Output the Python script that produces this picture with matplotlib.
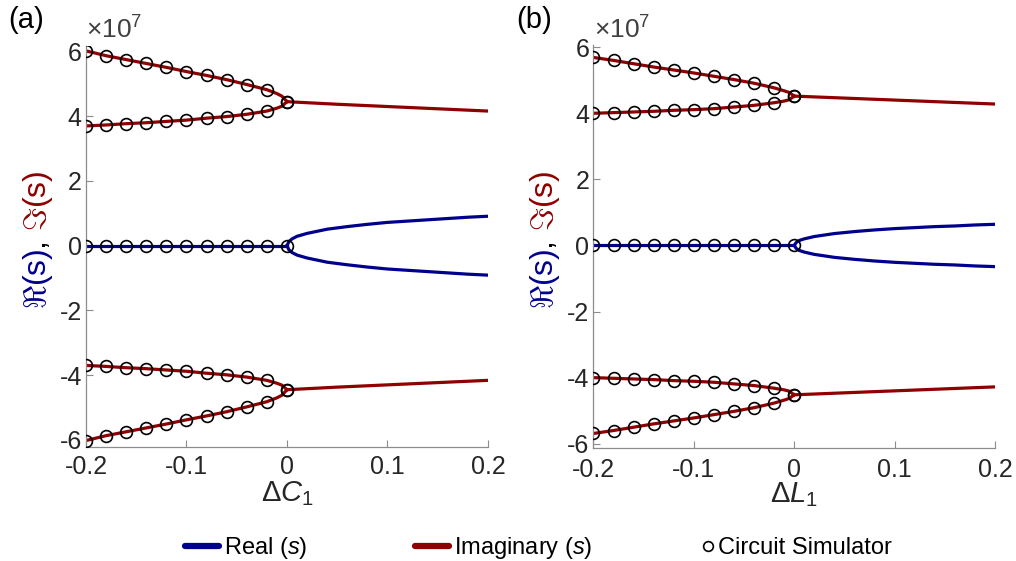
import matplotlib
matplotlib.use("Agg")
import matplotlib.pyplot as plt
from matplotlib.lines import Line2D

plt.rcParams['font.family'] = ['Liberation Sans', 'DejaVu Sans']
plt.rcParams['axes.unicode_minus'] = False
plt.rcParams['mathtext.fontset'] = 'custom'
plt.rcParams['mathtext.rm'] = 'Liberation Sans'
plt.rcParams['mathtext.it'] = 'Liberation Sans:italic'

# ---------------- data (eigenvalues in units of 1e7) ----------------
SCALE_EXP = 7

# detuning points where the circuit simulator was run
sim_x = [-0.20, -0.18, -0.16, -0.14, -0.12, -0.10, -0.08, -0.06, -0.04, -0.02, 0.00]

# extra theory points close to the exceptional point
ep_x = [-0.01, -0.005]

# post-EP sweep
post_x = [0.0, 0.05, 0.10, 0.15, 0.20]
re_x = [0.0, 0.002, 0.005, 0.01, 0.02, 0.04, 0.06, 0.08, 0.10, 0.12, 0.14, 0.16, 0.18, 0.20]

# panel (a): sweep of Delta C1
a_outer = [6.02, 5.87, 5.75, 5.63, 5.51, 5.38, 5.26, 5.13, 4.98, 4.82, 4.45]
a_inner = [3.70, 3.73, 3.77, 3.80, 3.84, 3.88, 3.94, 3.99, 4.06, 4.16, 4.45]
a_outer_ep = [4.70, 4.62]
a_inner_ep = [4.25, 4.31]
a_imag_post = [4.45, 4.37, 4.30, 4.23, 4.16]
a_real_post = [0.0, 0.13, 0.21, 0.29, 0.38, 0.51, 0.59, 0.66, 0.72, 0.76, 0.80, 0.84, 0.88, 0.91]

# panel (b): sweep of Delta L1
b_outer = [5.69, 5.60, 5.50, 5.40, 5.31, 5.22, 5.12, 5.02, 4.91, 4.77, 4.52]
b_inner = [4.00, 4.02, 4.04, 4.06, 4.09, 4.11, 4.14, 4.19, 4.24, 4.32, 4.52]
b_outer_ep = [4.68, 4.63]
b_inner_ep = [4.37, 4.41]
b_imag_post = [4.52, 4.46, 4.40, 4.34, 4.28]
b_real_post = [0.0, 0.09, 0.15, 0.20, 0.27, 0.36, 0.42, 0.47, 0.51, 0.54, 0.57, 0.59, 0.62, 0.64]

x_ticks = [-0.2, -0.1, 0, 0.1, 0.2]
x_ticklabels = ['-0.2', '-0.1', '0', '0.1', '0.2']
y_ticks = [-6, -4, -2, 0, 2, 4, 6]
y_ticklabels = ['-6', '-4', '-2', '0', '2', '4', '6']

REAL_C = '#00008c'
IMAG_C = '#8f0000'
AX_C = '#8c8c8c'
TXT_C = '#262626'
LW = 2.3

fig = plt.figure(figsize=(10.16, 5.61), dpi=100)
ax_a = fig.add_axes([0.0846, 0.2032, 0.3957, 0.7148])
ax_b = fig.add_axes([0.5841, 0.2014, 0.3952, 0.7180])


def branch(xs, vals, ep_vals):
    # merge the sampled branch with the extra points near the EP
    pts = sorted(zip(list(xs) + ep_x, list(vals) + ep_vals))
    return [p[0] for p in pts], [p[1] for p in pts]


def draw_panel(ax, outer, inner, outer_ep, inner_ep, imag_post, real_post, ylim, xpad):
    ox, oy = branch(sim_x, outer, outer_ep)
    ix, iy = branch(sim_x, inner, inner_ep)
    # real part: zero before the EP, splitting afterwards
    ax.plot(sim_x, [0.0] * len(sim_x), color=REAL_C, lw=LW, zorder=2)
    ax.plot(re_x, real_post, color=REAL_C, lw=LW, zorder=2)
    ax.plot(re_x, [-v for v in real_post], color=REAL_C, lw=LW, zorder=2)
    # imaginary parts (conjugate pairs)
    for sgn in (1, -1):
        ax.plot(ox, [sgn * v for v in oy], color=IMAG_C, lw=LW, zorder=2)
        ax.plot(ix, [sgn * v for v in iy], color=IMAG_C, lw=LW, zorder=2)
        ax.plot(post_x, [sgn * v for v in imag_post], color=IMAG_C, lw=LW, zorder=2)
    # circuit simulator results
    mk = dict(ls='none', marker='o', ms=8.5, mfc='none', mec='black', mew=1.2, zorder=3)
    ax.plot(sim_x, [0.0] * len(sim_x), **mk)
    for sgn in (1, -1):
        ax.plot(sim_x, [sgn * v for v in outer], **mk)
        ax.plot(sim_x, [sgn * v for v in inner], **mk)

    ax.set_xlim(-0.2, 0.2)
    ax.set_ylim(*ylim)
    ax.set_xticks(x_ticks)
    ax.set_xticklabels(x_ticklabels)
    ax.set_yticks(y_ticks)
    ax.set_yticklabels(y_ticklabels)
    for s in ('top', 'right'):
        ax.spines[s].set_visible(False)
    for s in ('left', 'bottom'):
        ax.spines[s].set_color(AX_C)
        ax.spines[s].set_linewidth(0.9)
    ax.tick_params(direction='in', length=5, width=0.8, color=AX_C,
                   labelcolor=TXT_C, labelsize=18)
    ax.tick_params(axis='x', pad=xpad)
    ax.tick_params(axis='y', pad=3)
    ax.patch.set_visible(False)


draw_panel(ax_a, a_outer, a_inner, a_outer_ep, a_inner_ep, a_imag_post, a_real_post, (-6.22, 6.17), 6)
draw_panel(ax_b, b_outer, b_inner, b_outer_ep, b_inner_ep, b_imag_post, b_real_post, (-6.13, 6.06), 7)

ax_a.set_xlabel(r'$\Delta C_1$', fontsize=21, color=TXT_C, labelpad=0)
ax_b.set_xlabel(r'$\Delta L_1$', fontsize=21, color=TXT_C, labelpad=-1)

W, H = 1016, 561


def fx(px):
    return px / W


def fy(py):
    return 1 - py / H


# exponent of the y axis
fig.text(fx(86), fy(30), r'$\times10^{%d}$' % SCALE_EXP, fontsize=19, color='#404040', va='center')
fig.text(fx(594), fy(30), r'$\times10^{%d}$' % SCALE_EXP, fontsize=19, color='#404040', va='center')

# panel tags
fig.text(fx(8), fy(20), '(a)', fontsize=21, color='black', va='center')
fig.text(fx(516), fy(20), '(b)', fontsize=21, color='black', va='center')

# two-coloured y labels, built piece by piece upwards
renderer = fig.canvas.get_renderer()


def ylabel_pieces(x_px, center_px):
    pieces = [(r'$\Re$(s)', REAL_C), (', ', 'black'), (r'$\Im$(s)', IMAG_C)]
    texts = []
    for txt, col in pieces:
        t = fig.text(0, 0, txt, fontsize=23, color=col, rotation=90,
                     rotation_mode='anchor', ha='left', va='baseline', math_fontfamily='cm')
        texts.append(t)
    heights = [t.get_window_extent(renderer).height for t in texts]
    y = center_px + sum(heights) / 2
    for t, h in zip(texts, heights):
        t.set_position((fx(x_px), fy(y)))
        y -= h


ylabel_pieces(46, 240)
ylabel_pieces(553, 240)

# legend entries along the bottom
leg_font = dict(family=['Liberation Sans Narrow', 'Liberation Sans'], size=17)
entries = [
    (Line2D([], [], color=REAL_C, lw=4.5, solid_capstyle='round'), r'Real ($\mathit{s}$)', 185, 1.45),
    (Line2D([], [], color=IMAG_C, lw=4.5, solid_capstyle='round'), r'Imaginary ($\mathit{s}$)', 415, 1.45),
    (Line2D([], [], ls='none', marker='o', ms=7, mfc='none', mec='black', mew=1.2), 'Circuit Simulator', 703, 0.45),
]
for handle, label, x0, hl in entries:
    fig.legend([handle], [label], loc='center left', bbox_to_anchor=(fx(x0), fy(548)),
               frameon=False, prop=leg_font, handlelength=hl, handletextpad=0.2,
               borderpad=0, borderaxespad=0)

fig.savefig('out.png', dpi=100)
